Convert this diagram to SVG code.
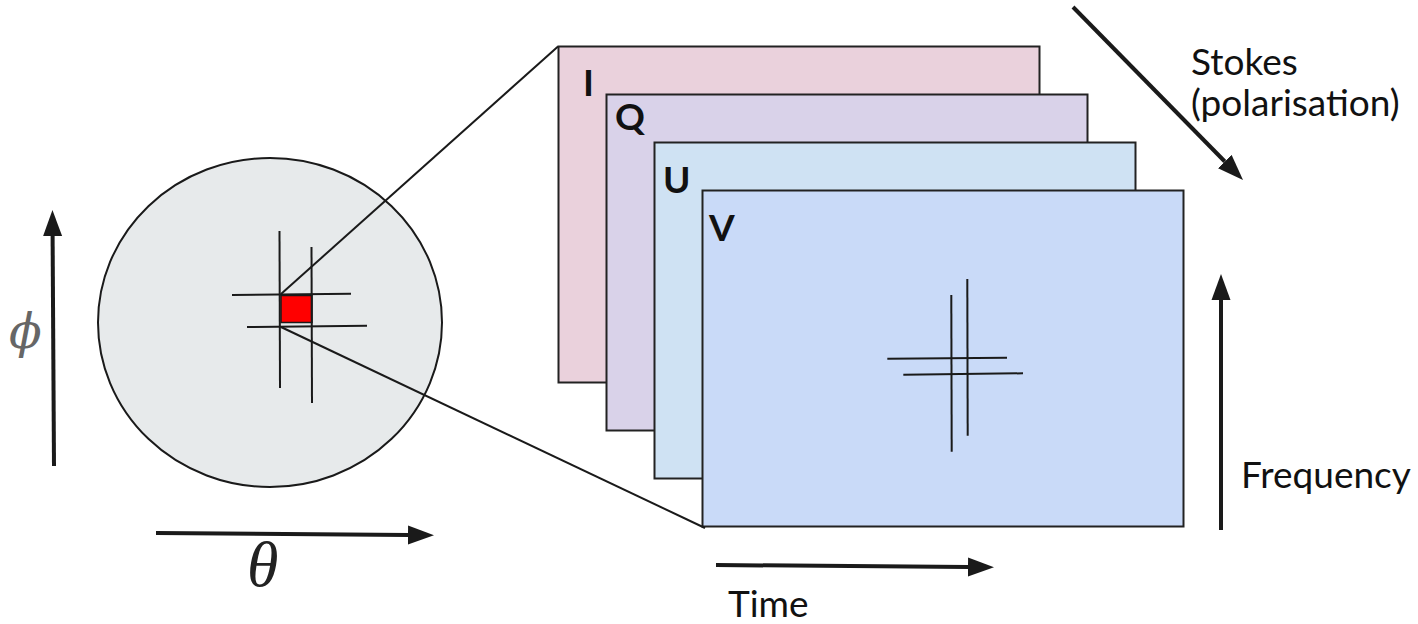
<svg xmlns="http://www.w3.org/2000/svg" width="1418" height="624" viewBox="0 0 1418 624">
  <style>
    .frame { stroke: #222222; stroke-width: 2; }
    .thin { stroke: #1a1a1a; stroke-width: 2; fill: none; }
    .axis { stroke: #1a1a1a; stroke-width: 4; fill: none; marker-end: url(#head); }
    .lbl { font-family: Lato, "Liberation Sans", sans-serif; font-weight: bold; font-size: 37px; fill: #111111; }
    .txt { font-family: Lato, "Liberation Sans", sans-serif; font-size: 37px; fill: #111111; }
    .math { font-family: "Liberation Serif", "DejaVu Serif", serif; font-style: italic; fill: #111111; }
  </style>
  <defs>
    <marker id="head" markerUnits="userSpaceOnUse" markerWidth="28" markerHeight="22" refX="0" refY="10" orient="auto">
      <path d="M0,0.5 L26,10 L0,19.5 z" fill="#1a1a1a"/>
    </marker>
  </defs>
  <rect width="1418" height="624" fill="#ffffff"/>

  <g id="sky">
    <ellipse cx="270" cy="322.5" rx="172" ry="164.5" fill="#e7eaeb" stroke="#1a1a1a" stroke-width="2"/>
    <rect x="281" y="295.5" width="31" height="27" fill="#ff0000" stroke="#1a1a1a" stroke-width="1.5"/>
    <line class="thin" x1="279.5" y1="231" x2="280" y2="388"/>
    <line class="thin" x1="311.5" y1="247" x2="312" y2="403"/>
    <line class="thin" x1="232" y1="295" x2="351" y2="293.7"/>
    <line class="thin" x1="247" y1="327" x2="367" y2="325.7"/>
  </g>

  <g id="frame-I">
    <rect class="frame" x="558.5" y="46.5" width="481" height="336" fill="#ead1dc"/>
    <text class="lbl" x="583" y="96">I</text>
  </g>
  <g id="frame-Q">
    <rect class="frame" x="606.5" y="94.5" width="481" height="336" fill="#d9d2e9"/>
    <text class="lbl" x="615" y="130">Q</text>
  </g>
  <g id="frame-U">
    <rect class="frame" x="654.5" y="142.5" width="481" height="336" fill="#cfe2f3"/>
    <text class="lbl" x="663" y="193">U</text>
  </g>
  <g id="frame-V">
    <rect class="frame" x="702.5" y="190.5" width="481" height="336" fill="#c9daf8"/>
    <text class="lbl" x="709" y="241">V</text>
    <line class="thin" x1="951.3" y1="295" x2="951.7" y2="451.7"/>
    <line class="thin" x1="967.3" y1="279" x2="967.7" y2="435.7"/>
    <line class="thin" x1="887.3" y1="358.7" x2="1007" y2="357.7"/>
    <line class="thin" x1="903.3" y1="374.7" x2="1023" y2="373.3"/>
  </g>

  <g id="connectors">
    <line class="thin" x1="281" y1="294" x2="558" y2="46.5"/>
    <line class="thin" x1="281" y1="327" x2="705" y2="528"/>
  </g>

  <g id="axis-phi">
    <line class="axis" x1="54" y1="466" x2="52.6" y2="236"/>
    <text x="9" y="348" font-family="'DejaVu Serif', serif" font-style="italic" font-size="48" style="fill:#666666">ϕ</text>
  </g>
  <g id="axis-theta">
    <line class="axis" x1="156" y1="533" x2="408" y2="535"/>
    <text class="math" x="247" y="586" font-size="64" style="fill:#222222">θ</text>
  </g>
  <g id="axis-time">
    <line class="axis" x1="716" y1="565" x2="968" y2="567"/>
    <text class="txt" x="728" y="617">Time</text>
  </g>
  <g id="axis-frequency">
    <line class="axis" x1="1221" y1="530" x2="1221" y2="300"/>
    <text class="txt" x="1241" y="488" font-size="38">Frequency</text>
  </g>
  <g id="axis-stokes">
    <line class="axis" x1="1073" y1="7" x2="1224.8" y2="161.5"/>
    <text class="txt" x="1191" y="75">Stokes</text>
    <text class="txt" x="1191" y="116">(polarisation)</text>
  </g>
</svg>
